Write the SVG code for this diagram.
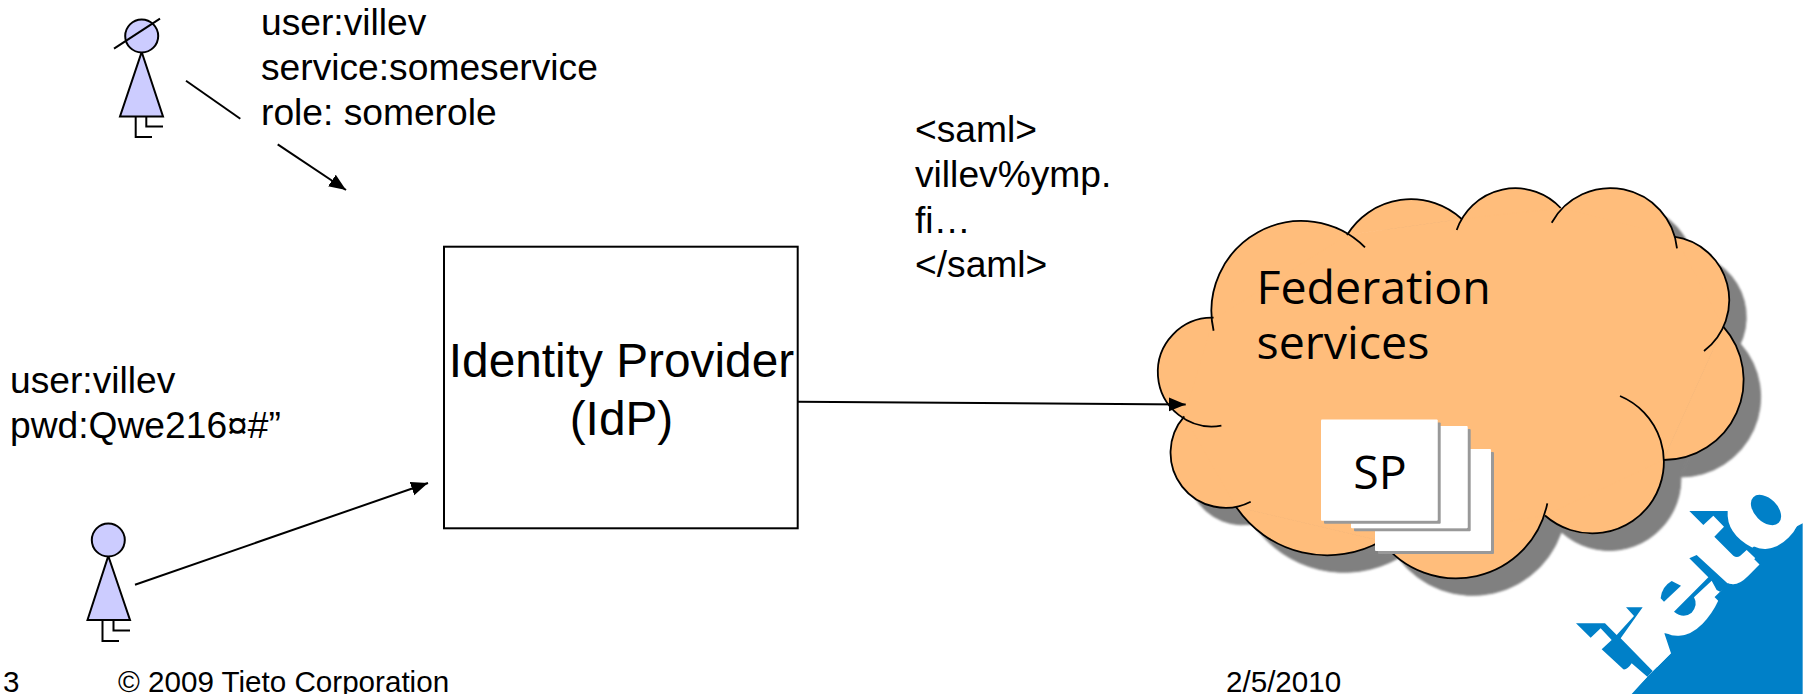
<svg xmlns="http://www.w3.org/2000/svg" width="1804" height="694" viewBox="0 0 1804 694">
<style>
.t{font-family:"Liberation Sans",Arial,sans-serif;font-size:37.200px;fill:#000}
.f{font-family:"Liberation Sans",Arial,sans-serif;font-size:29.600px;fill:#000}
.h{font-family:"Open Sans","DejaVu Sans",sans-serif;font-size:46.500px;fill:#000}
.p{fill:#ccf;stroke:#000;stroke-width:2}
.l{fill:none;stroke:#000;stroke-width:2}
.a{fill:none;stroke:#000;stroke-width:2;marker-end:url(#ah)}
.b{fill:#0080c8}
.page{fill:#fff;filter:url(#ps)}
</style>
<defs>
<marker id="ah" markerUnits="userSpaceOnUse" markerWidth="18" markerHeight="16" refX="17" refY="7" orient="auto"><path d="M0 0L17 7L0 14Z" fill="#000"/></marker>
<filter id="bl" x="-5%" y="-5%" width="110%" height="110%"><feGaussianBlur stdDeviation="1"/></filter>
<filter id="ps" x="-5%" y="-5%" width="110%" height="110%"><feDropShadow dx="3" dy="3" stdDeviation="0" flood-color="#999"/></filter>
<g id="lobes">
<path d="M1213.600 330.700A90 90 0 0 1 1365 247.300"/>
<path d="M1347 235A75 75 0 0 1 1461.700 219"/>
<path d="M1456.700 230A62 62 0 0 1 1560.700 208"/>
<path d="M1551.700 222.700A67 67 0 0 1 1677 248.300"/>
<path d="M1674 236.700A64 64 0 0 1 1704 351"/>
<path d="M1723.300 326.700A80 80 0 0 1 1663.300 460"/>
<path d="M1620 396A71.500 71.500 0 1 1 1545 515.500"/>
<path d="M1547.300 503.300A93 93 0 0 1 1381.500 541"/>
<path d="M1381.500 541A110 110 0 0 1 1236 506.700"/>
<path d="M1250.700 501.700A55 55 0 0 1 1184.300 416.400"/>
<path d="M1221.400 425.700A54.400 54.400 0 1 1 1213.600 317.700"/>
</g>
<polygon id="core" points="1213,320 1347,235 1461.700,219 1560.700,208 1675,236.500 1723.300,326.700 1663.300,460 1545,515.500 1381.500,541 1236,506.700 1184.300,416.400"/>
</defs>
<rect width="1804" height="694" fill="#fff"/>
<g id="logo">
<g transform="translate(1570 490) scale(.33333)"><path class="b" d="M185 612L232 560L303 490L283 430L320 432L450 305L470 283L520 240L560 200L548 172L600 140L650 125L698 100V612Z"/></g>
<text transform="translate(1620 704) rotate(-45)" x="-10 43 76 149 199" y="0" font-family="'DejaVu Sans',sans-serif" font-weight="700" font-size="110" fill="#fff">tieto</text>
<g transform="translate(1570 490) scale(.33333)" class="b">
<path d="M18 400H105L140 435L192 378L168 352H218L152 445L248 543L232 560L185 520Q172 540 160 538L95 478L125 450L92 415L62 443Z"/>
<path d="M358 63H473Q468 130 545 172L600 190L572 220L530 180L510 198Q500 205 490 197L433 140L462 110L430 77L400 105Z"/>
<path d="M358 205L380 195L478 285L450 305L440 300L425 272L372 322Q385 345 365 368Q340 388 312 365L415 262Z"/>
<path d="M272 325Q275 290 305 273L333 287L282 335Z"/>
</g>
<ellipse class="b" cx="1766" cy="510" rx="18" ry="11.500" transform="rotate(45 1766 510)"/>
</g>
<g id="person-top">
<path class="l" d="M135.700 116.500V137H152M146.300 116.500V126.500H163"/>
<path class="p" d="M141.700 52L163 116.500H120Z"/>
<circle class="p" cx="141.700" cy="36" r="16.500"/>
<path class="l" d="M114 48.700L160 18.700"/>
</g>
<g id="person-bottom">
<path class="l" d="M102.500 620V641H119M113.500 620V630.500H130"/>
<path class="p" d="M108.300 556L130 620H87.500Z"/>
<circle class="p" cx="108.300" cy="540" r="16.500"/>
</g>
<g id="label-user"><text class="t" x="261" y="35">user:villev</text><text class="t" x="261" y="80">service:someservice</text><text class="t" x="261" y="125">role: somerole</text></g>
<g id="label-pwd"><text class="t" x="10" y="393.300">user:villev</text><text class="t" x="10" y="438.300">pwd:Qwe216¤#”</text></g>
<g id="label-saml"><text class="t" x="915" y="141.700">&lt;saml&gt;</text><text class="t" x="915" y="187">villev%ymp.</text><text class="t" x="915" y="232.500">fi…</text><text class="t" x="915" y="277">&lt;/saml&gt;</text></g>
<g id="idp"><rect x="444" y="246.700" width="353.700" height="281.600" fill="#fff" stroke="#000" stroke-width="2"/>
<text class="t" style="font-size:47.800px" x="621.500" y="376.700" text-anchor="middle">Identity Provider</text><text class="t" style="font-size:47.800px" x="621.500" y="435" text-anchor="middle">(IdP)</text></g>
<g id="cloud">
<g transform="translate(17 17)" fill="#808080" stroke="#808080" filter="url(#bl)"><use href="#lobes"/><use href="#core"/></g>
<g fill="#ffbd7b" stroke="#ffbd7b" stroke-width="1"><use href="#lobes"/><use href="#core"/></g>
<use href="#lobes" fill="none" stroke="#000" stroke-width="1.800"/>
<text class="h" x="1256.500" y="303.800">Federation</text><text class="h" x="1256.500" y="359">services</text>
</g>
<g id="sp-pages">
<rect class="page" x="1375" y="449" width="116" height="102" rx="1"/>
<rect class="page" x="1351" y="426" width="116.700" height="102.300" rx="1"/>
<rect class="page" x="1321" y="419.500" width="116.700" height="101.200" rx="1"/>
<text class="h" x="1380" y="489.300" text-anchor="middle">SP</text>
</g>
<g id="connectors">
<path class="l" d="M186 80.700L240.300 118.700"/>
<path class="a" d="M277.700 144.300L346 190"/>
<path class="a" d="M135 584.700L428 483"/>
<path class="a" d="M797.700 401.700L1185.700 404.500"/>
</g>
<g id="footer"><text class="f" x="3" y="691.500">3</text><text class="f" x="118" y="691.500">© 2009 Tieto Corporation</text><text class="f" x="1226" y="691.500">2/5/2010</text></g>
</svg>
